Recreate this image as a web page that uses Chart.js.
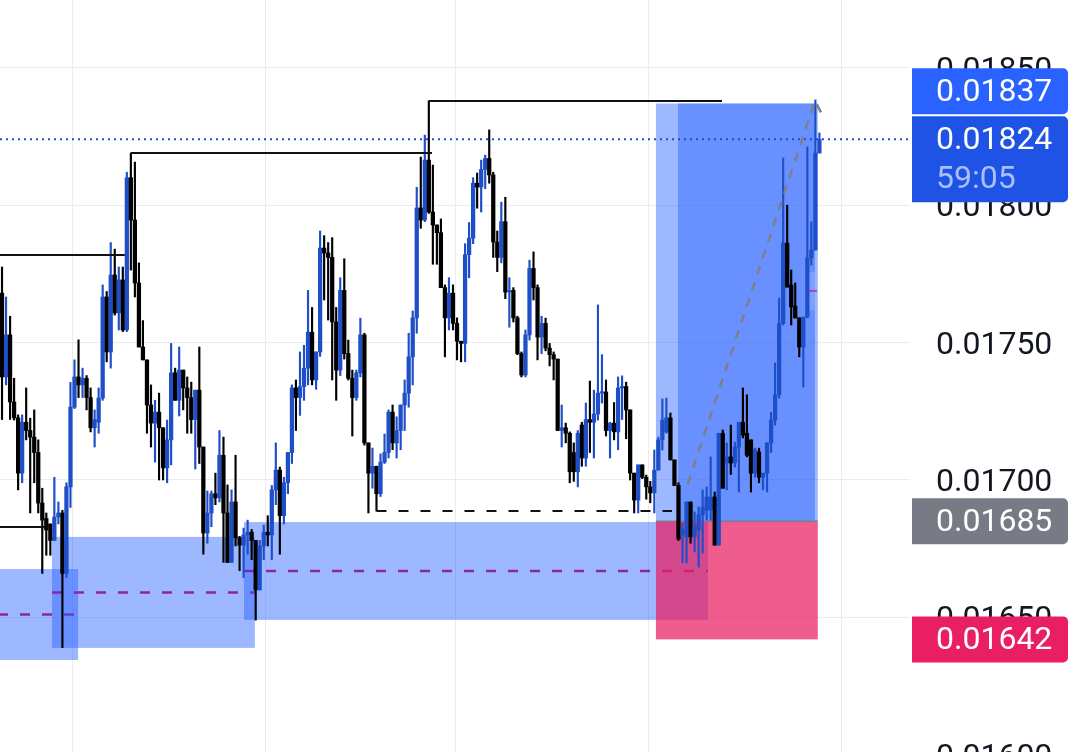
<!DOCTYPE html>
<html>
<head>
<meta charset="utf-8">
<script src="https://cdn.jsdelivr.net/npm/chart.js@4.4.1/dist/chart.umd.min.js"></script>
<style>
    html, body { margin: 0; padding: 0; background: #fff; overflow: hidden; }
    #wrap { width: 1079px; height: 752px; overflow: hidden; }
</style>
</head>
<body>
<div id="wrap"><canvas id="chart" width="1079" height="800"></canvas></div>
<script>
// hourly candles, index 0 = leftmost visible bar; the last slots are empty space on the right
const slots = Array.from({length: 226}, (_, i) => 'h' + i);

const openP = [
    0.017680, 0.017375, 0.017528, 0.017284, 0.017226, 0.017025, 0.017210, 0.017180, 0.017156, 0.017100,
    0.016916, 0.016860, 0.016840, 0.016780, 0.016865, 0.016880, 0.016660, 0.016975, 0.017265, 0.017375,
    0.017346, 0.017370, 0.017300, 0.017190, 0.017210, 0.017298, 0.017666, 0.017466, 0.017746, 0.017608,
    0.017728, 0.017546, 0.018100, 0.017946, 0.017717, 0.017484, 0.017437, 0.017273, 0.017207, 0.017247,
    0.017190, 0.017044, 0.017146, 0.017390, 0.017290, 0.017400, 0.017335, 0.017300, 0.017220, 0.017327,
    0.017120, 0.016807, 0.016880, 0.016950, 0.016935, 0.017090, 0.016880, 0.016700, 0.016920, 0.016790,
    0.016763, 0.016800, 0.016810, 0.016780, 0.016600, 0.016760, 0.016810, 0.016800, 0.016964, 0.017036,
    0.016870, 0.016990, 0.017100, 0.017335, 0.017300, 0.017340, 0.017407, 0.017538, 0.017364, 0.017466,
    0.017844, 0.017826, 0.017810, 0.017575, 0.017400, 0.017690, 0.017460, 0.017370, 0.017300, 0.017390,
    0.017528, 0.017135, 0.017025, 0.017050, 0.016950, 0.017065, 0.017100, 0.017247, 0.017135, 0.017180,
    0.017273, 0.017316, 0.017448, 0.017590, 0.017990, 0.017946, 0.018164, 0.017975, 0.017928, 0.017900,
    0.017700, 0.017590, 0.017680, 0.017570, 0.017505, 0.017497, 0.017820, 0.017880, 0.018080, 0.018066,
    0.018130, 0.018170, 0.018110, 0.017866, 0.017810, 0.017940, 0.017684, 0.017690, 0.017590, 0.017460,
    0.017382, 0.017528, 0.017770, 0.017700, 0.017520, 0.017570, 0.017480, 0.017456, 0.017440, 0.017180,
    0.017190, 0.017170, 0.017100, 0.017030, 0.017200, 0.017080, 0.017220, 0.017210, 0.017240, 0.017316,
    0.017320, 0.017180, 0.017207, 0.017175, 0.017335, 0.017340, 0.017255, 0.017025, 0.016927, 0.017055,
    0.017010, 0.016975, 0.016953, 0.017036, 0.017146, 0.017175, 0.017226, 0.017073, 0.016980, 0.016800,
    0.016793, 0.016920, 0.016793, 0.016818, 0.016873, 0.016890, 0.016890, 0.016938, 0.016763, 0.017170,
    0.017062, 0.017084, 0.017062, 0.017120, 0.017210, 0.017170, 0.017146, 0.017025, 0.017102, 0.017010,
    0.017025, 0.017135, 0.017218, 0.017310, 0.017570, 0.017862, 0.017710, 0.017633, 0.017590, 0.017484,
    0.017593, 0.017808, 0.017837, 0.018190
];
const highP = [
    0.017775, 0.017666, 0.017596, 0.017370, 0.017237, 0.017237, 0.017335, 0.017225, 0.017255, 0.017146,
    0.016970, 0.016880, 0.016840, 0.017010, 0.016920, 0.016890, 0.016990, 0.017355, 0.017437, 0.017510,
    0.017407, 0.017380, 0.017335, 0.017255, 0.017335, 0.017710, 0.017686, 0.017864, 0.017840, 0.017775,
    0.017775, 0.018120, 0.018190, 0.018157, 0.017790, 0.017580, 0.017437, 0.017346, 0.017290, 0.017316,
    0.017190, 0.017218, 0.017497, 0.017407, 0.017484, 0.017400, 0.017375, 0.017356, 0.017327, 0.017484,
    0.017120, 0.016960, 0.016960, 0.017025, 0.017180, 0.017156, 0.016982, 0.016964, 0.017090, 0.016795,
    0.016825, 0.016854, 0.016820, 0.016780, 0.016780, 0.016836, 0.016870, 0.016980, 0.017135, 0.017047,
    0.017010, 0.017100, 0.017346, 0.017364, 0.017466, 0.017490, 0.017690, 0.017628, 0.017466, 0.017906,
    0.017889, 0.017864, 0.017882, 0.017628, 0.017736, 0.017805, 0.017509, 0.017400, 0.017400, 0.017589,
    0.017534, 0.017135, 0.017116, 0.017050, 0.017095, 0.017167, 0.017255, 0.017273, 0.017230, 0.017273,
    0.017364, 0.017534, 0.017615, 0.018065, 0.018175, 0.018255, 0.018380, 0.018146, 0.017928, 0.017950,
    0.017710, 0.017736, 0.017710, 0.017590, 0.017505, 0.017860, 0.017937, 0.018100, 0.018117, 0.018164,
    0.018182, 0.018274, 0.018120, 0.017906, 0.018011, 0.018029, 0.017736, 0.017700, 0.017596, 0.017466,
    0.017546, 0.017800, 0.017830, 0.017710, 0.017596, 0.017589, 0.017497, 0.017466, 0.017440, 0.017273,
    0.017207, 0.017175, 0.017135, 0.017180, 0.017210, 0.017280, 0.017360, 0.017327, 0.017637, 0.017456,
    0.017364, 0.017210, 0.017282, 0.017375, 0.017379, 0.017356, 0.017255, 0.017025, 0.017055, 0.017055,
    0.017018, 0.016995, 0.017109, 0.017156, 0.017295, 0.017298, 0.017244, 0.017073, 0.016990, 0.016844,
    0.016920, 0.016920, 0.016884, 0.016902, 0.016964, 0.016975, 0.017084, 0.016956, 0.017170, 0.017182,
    0.017135, 0.017200, 0.017138, 0.017210, 0.017335, 0.017310, 0.017146, 0.017116, 0.017116, 0.017025,
    0.017135, 0.017247, 0.017426, 0.017662, 0.018172, 0.018000, 0.017764, 0.017717, 0.017590, 0.017593,
    0.018212, 0.017940, 0.018383, 0.018263
];
const lowP = [
    0.017220, 0.017346, 0.017220, 0.017218, 0.016964, 0.016990, 0.017146, 0.016880, 0.016990, 0.016880,
    0.016660, 0.016726, 0.016726, 0.016780, 0.016840, 0.016390, 0.016645, 0.016900, 0.017260, 0.017300,
    0.017300, 0.017255, 0.017175, 0.017120, 0.017170, 0.017290, 0.017430, 0.017407, 0.017600, 0.017546,
    0.017540, 0.017540, 0.017764, 0.017666, 0.017484, 0.017437, 0.017170, 0.017120, 0.017065, 0.017000,
    0.017000, 0.016990, 0.017055, 0.017290, 0.017233, 0.017255, 0.017170, 0.017170, 0.017040, 0.017060,
    0.016730, 0.016770, 0.016830, 0.016910, 0.016920, 0.016700, 0.016700, 0.016700, 0.016760, 0.016670,
    0.016645, 0.016730, 0.016710, 0.016490, 0.016600, 0.016710, 0.016760, 0.016710, 0.016910, 0.016730,
    0.016840, 0.016950, 0.017060, 0.017180, 0.017235, 0.017290, 0.017346, 0.017346, 0.017330, 0.017450,
    0.017655, 0.017582, 0.017364, 0.017290, 0.017380, 0.017440, 0.017364, 0.017160, 0.017290, 0.017375,
    0.017127, 0.016880, 0.016970, 0.016887, 0.016940, 0.017060, 0.017080, 0.017110, 0.017080, 0.017110,
    0.017180, 0.017265, 0.017346, 0.017534, 0.017916, 0.017940, 0.017970, 0.017785, 0.017785, 0.017700,
    0.017448, 0.017546, 0.017546, 0.017437, 0.017430, 0.017430, 0.017736, 0.017860, 0.017989, 0.017975,
    0.018060, 0.018080, 0.017810, 0.017758, 0.017790, 0.017660, 0.017556, 0.017575, 0.017456, 0.017375,
    0.017375, 0.017509, 0.017655, 0.017437, 0.017460, 0.017470, 0.017415, 0.017364, 0.017180, 0.017120,
    0.017135, 0.016990, 0.016995, 0.016975, 0.017050, 0.017050, 0.017100, 0.017080, 0.017218, 0.017280,
    0.017160, 0.017080, 0.017146, 0.017110, 0.017220, 0.017150, 0.017000, 0.016880, 0.016880, 0.017005,
    0.016930, 0.016917, 0.016880, 0.017036, 0.017109, 0.017170, 0.017073, 0.016980, 0.016780, 0.016698,
    0.016698, 0.016770, 0.016738, 0.016683, 0.016734, 0.016854, 0.016854, 0.016763, 0.016763, 0.016970,
    0.016964, 0.017020, 0.017047, 0.016956, 0.017153, 0.017084, 0.016956, 0.017010, 0.016990, 0.016964,
    0.016956, 0.017100, 0.017200, 0.017298, 0.017564, 0.017702, 0.017564, 0.017589, 0.017448, 0.017338,
    0.017590, 0.017782, 0.017837, 0.018190
];
const closeP = [
    0.017375, 0.017528, 0.017284, 0.017226, 0.017025, 0.017210, 0.017180, 0.017156, 0.017100, 0.016916,
    0.016854, 0.016818, 0.016780, 0.016865, 0.016880, 0.016660, 0.016975, 0.017265, 0.017375, 0.017346,
    0.017370, 0.017300, 0.017190, 0.017220, 0.017298, 0.017666, 0.017466, 0.017746, 0.017608, 0.017728,
    0.017546, 0.018100, 0.017946, 0.017717, 0.017484, 0.017437, 0.017273, 0.017207, 0.017247, 0.017190,
    0.017044, 0.017146, 0.017390, 0.017290, 0.017400, 0.017335, 0.017300, 0.017220, 0.017327, 0.017120,
    0.016807, 0.016880, 0.016950, 0.016935, 0.017090, 0.016880, 0.016700, 0.016920, 0.016790, 0.016763,
    0.016800, 0.016810, 0.016780, 0.016600, 0.016760, 0.016810, 0.016800, 0.016964, 0.017036, 0.016870,
    0.016990, 0.017100, 0.017335, 0.017300, 0.017340, 0.017407, 0.017538, 0.017364, 0.017466, 0.017844,
    0.017826, 0.017810, 0.017575, 0.017400, 0.017690, 0.017460, 0.017370, 0.017300, 0.017390, 0.017528,
    0.017135, 0.017025, 0.017050, 0.016950, 0.017065, 0.017100, 0.017247, 0.017135, 0.017180, 0.017273,
    0.017316, 0.017448, 0.017590, 0.017990, 0.017946, 0.018164, 0.017975, 0.017928, 0.017900, 0.017700,
    0.017590, 0.017680, 0.017570, 0.017505, 0.017497, 0.017820, 0.017880, 0.018080, 0.018066, 0.018130,
    0.018170, 0.018110, 0.017866, 0.017810, 0.017940, 0.017684, 0.017690, 0.017590, 0.017460, 0.017382,
    0.017528, 0.017770, 0.017700, 0.017520, 0.017570, 0.017480, 0.017456, 0.017440, 0.017180, 0.017190,
    0.017170, 0.017030, 0.017030, 0.017170, 0.017080, 0.017220, 0.017210, 0.017240, 0.017316, 0.017320,
    0.017180, 0.017207, 0.017175, 0.017335, 0.017340, 0.017255, 0.017025, 0.016927, 0.017055, 0.017010,
    0.016975, 0.016953, 0.017036, 0.017146, 0.017218, 0.017226, 0.017073, 0.016980, 0.016785, 0.016820,
    0.016920, 0.016793, 0.016833, 0.016873, 0.016900, 0.016938, 0.016938, 0.016763, 0.017170, 0.016970,
    0.017084, 0.017062, 0.017120, 0.017210, 0.017164, 0.017090, 0.017025, 0.017110, 0.017010, 0.017025,
    0.017135, 0.017218, 0.017310, 0.017570, 0.017862, 0.017702, 0.017630, 0.017590, 0.017484, 0.017593,
    0.017808, 0.017837, 0.018190, 0.018240
];

// session boundaries (slot index) where the vertical grid lines sit
const sessionStarts = [18, 66, 113, 161, 209];

// visible price window and tick step
const priceTop = 0.0187467;
const priceBottom = 0.0158355;
const priceStep = 0.0005;

// order blocks: [fromSlot, toSlot, top, bottom]
const orderBlocks = [
    [-1, 18.9, 0.016676, 0.016345],
    [12.4, 62.8, 0.016793, 0.016389],
    [60.1, 175.3, 0.016847, 0.016491]
];
const smallBlock = [200.1, 202.4, 0.017757, 0.017619];

// swing lines: [fromSlot, toSlot, price]
const swingLines = [
    [-1, 30.5, 0.017819],
    [32, 106.8, 0.018190],
    [106, 178.8, 0.018379],
    [-1, 10.7, 0.016829]
];
const sweepLine = [93, 166.4, 0.016887];

// long position tool
const posFrom = 162.4, posTo = 202.6;
const secondZone = [167.9, 201.9];
const target = 0.01837, entry = 0.01685, stop = 0.01642;
const projection = [[170.3, 0.016985], [201.9, 0.018380], [204.1, 0.018317]];

const lastPrice = 0.01824;
const countdown = '59:05';

const upColor = '#1f4fc8';
const downColor = '#000000';
const candleColors = closeP.map((c, i) => c >= openP[i] ? upColor : downColor);

const overlay = {
    id: 'overlay',
    beforeDatasetsDraw(chart) {
        const {ctx, chartArea: a, scales: {x, y}} = chart;
        ctx.save();
        ctx.beginPath();
        ctx.rect(a.left, a.top, a.right - a.left, a.bottom - a.top);
        ctx.clip();

        const box = (x1, x2, p1, p2, fill) => {
            const l = x.getPixelForValue(x1), r = x.getPixelForValue(x2);
            const t = y.getPixelForValue(p1), b = y.getPixelForValue(p2);
            ctx.fillStyle = fill;
            ctx.fillRect(l, t, r - l, b - t);
        };
        const hline = (x1, x2, p, color, width, dash) => {
            const yy = y.getPixelForValue(p);
            ctx.strokeStyle = color;
            ctx.lineWidth = width;
            ctx.setLineDash(dash);
            ctx.beginPath();
            ctx.moveTo(x.getPixelForValue(x1), yy);
            ctx.lineTo(x.getPixelForValue(x2), yy);
            ctx.stroke();
            ctx.setLineDash([]);
        };

        orderBlocks.forEach(ob => {
            box(ob[0], ob[1], ob[2], ob[3], 'rgba(41, 98, 255, 0.45)');
            hline(ob[0], ob[1], (ob[2] + ob[3]) / 2, '#8e24aa', 2.5, [10, 12]);
        });

        // position: profit / loss zones
        box(posFrom, posTo, target, entry, 'rgba(41, 98, 255, 0.45)');
        box(secondZone[0], secondZone[1], target, entry, 'rgba(41, 98, 255, 0.45)');
        box(posFrom, posTo, entry, stop, 'rgba(233, 30, 99, 0.72)');
        hline(posFrom, posTo, entry, 'rgba(120, 123, 134, 0.9)', 1.5, []);

        box(smallBlock[0], smallBlock[1], smallBlock[2], smallBlock[3], 'rgba(150, 180, 255, 0.45)');
        hline(smallBlock[0], smallBlock[1], (smallBlock[2] + smallBlock[3]) / 2, 'rgba(200, 40, 160, 0.8)', 2, []);
        ctx.restore();
    },
    afterDatasetsDraw(chart) {
        const {ctx, chartArea: a, scales: {x, y}} = chart;
        ctx.save();
        ctx.beginPath();
        ctx.rect(a.left, a.top, a.right - a.left, a.bottom - a.top);
        ctx.clip();

        ctx.strokeStyle = '#111111';
        ctx.lineWidth = 2;
        swingLines.forEach(s => {
            const yy = y.getPixelForValue(s[2]);
            ctx.beginPath();
            ctx.moveTo(x.getPixelForValue(s[0]), yy);
            ctx.lineTo(x.getPixelForValue(s[1]), yy);
            ctx.stroke();
        });

        ctx.setLineDash([10, 12]);
        let yy = y.getPixelForValue(sweepLine[2]);
        ctx.beginPath();
        ctx.moveTo(x.getPixelForValue(sweepLine[0]), yy);
        ctx.lineTo(x.getPixelForValue(sweepLine[1]), yy);
        ctx.stroke();

        // projection path
        ctx.strokeStyle = 'rgba(125, 128, 138, 1)';
        ctx.lineWidth = 2.5;
        ctx.setLineDash([9, 8]);
        ctx.beginPath();
        projection.forEach((p, i) => {
            const px = x.getPixelForValue(p[0]), py = y.getPixelForValue(p[1]);
            if (i === 0) ctx.moveTo(px, py); else ctx.lineTo(px, py);
        });
        ctx.stroke();

        // last price dotted line
        yy = y.getPixelForValue(lastPrice);
        ctx.strokeStyle = '#1c4bd6';
        ctx.lineWidth = 2;
        ctx.setLineDash([2, 4]);
        ctx.beginPath();
        ctx.moveTo(a.left, yy);
        ctx.lineTo(a.right, yy);
        ctx.stroke();
        ctx.restore();
    },
    afterDraw(chart) {
        const {ctx, scales: {y}} = chart;
        const left = y.left + 2, width = 156;
        const tags = [
            {value: lastPrice, fill: '#1e53e5', sub: countdown, h: 86},
            {value: target, fill: '#2962ff', h: 46},
            {value: entry, fill: '#787b86', h: 46},
            {value: stop, fill: '#e91e63', h: 46}
        ];
        tags.forEach(t => { t.top = y.getPixelForValue(t.value) - 23; });
        // push the target tag above the live price tag when they collide
        if (tags[1].top + tags[1].h > tags[0].top - 2) tags[1].top = tags[0].top - 2 - tags[1].h;

        ctx.save();
        ctx.font = '32px Roboto';
        ctx.textBaseline = 'middle';
        tags.forEach(t => {
            ctx.fillStyle = t.fill;
            ctx.beginPath();
            ctx.roundRect(left, t.top, width, t.h, [0, 5, 5, 0]);
            ctx.fill();
            ctx.fillStyle = '#ffffff';
            ctx.fillText(t.value.toFixed(5), y.left + 26, t.top + 25);
            if (t.sub) {
                ctx.fillStyle = '#a9c0ff';
                ctx.fillText(t.sub, y.left + 26, t.top + 64);
            }
        });
        ctx.restore();
    }
};

new Chart(document.getElementById('chart').getContext('2d'), {
    type: 'bar',
    data: {
        labels: slots,
        datasets: [
            {
                label: 'wick',
                data: lowP.map((l, i) => [l, highP[i]]),
                backgroundColor: candleColors,
                barThickness: 1.5,
                grouped: false,
                order: 2
            },
            {
                label: 'body',
                data: openP.map((o, i) => [o, closeP[i]]),
                backgroundColor: candleColors,
                barThickness: 3.6,
                minBarLength: 1.5,
                grouped: false,
                order: 1
            }
        ]
    },
    options: {
        responsive: false,
        animation: false,
        events: [],
        layout: {padding: 0},
        plugins: {legend: {display: false}, tooltip: {enabled: false}},
        scales: {
            x: {
                type: 'category',
                offset: true,
                afterFit: s => { s.height = 0; },
                grid: {
                    offset: true,
                    drawTicks: false,
                    color: c => sessionStarts.includes(c.index) ? '#ececec' : 'rgba(0,0,0,0)'
                },
                border: {display: false},
                ticks: {display: false, autoSkip: false}
            },
            y: {
                type: 'linear',
                position: 'right',
                min: priceBottom,
                max: priceTop,
                afterFit: s => { s.width = 169; s.paddingTop = 0; s.paddingBottom = 0; },
                grid: {color: '#ececec', drawTicks: false},
                border: {display: false},
                ticks: {
                    stepSize: priceStep,
                    includeBounds: false,
                    padding: 26,
                    labelOffset: 3,
                    color: '#131722',
                    font: {family: 'Roboto', size: 32},
                    callback: v => v.toFixed(5)
                }
            }
        }
    },
    plugins: [overlay]
});
</script>
</body>
</html>
